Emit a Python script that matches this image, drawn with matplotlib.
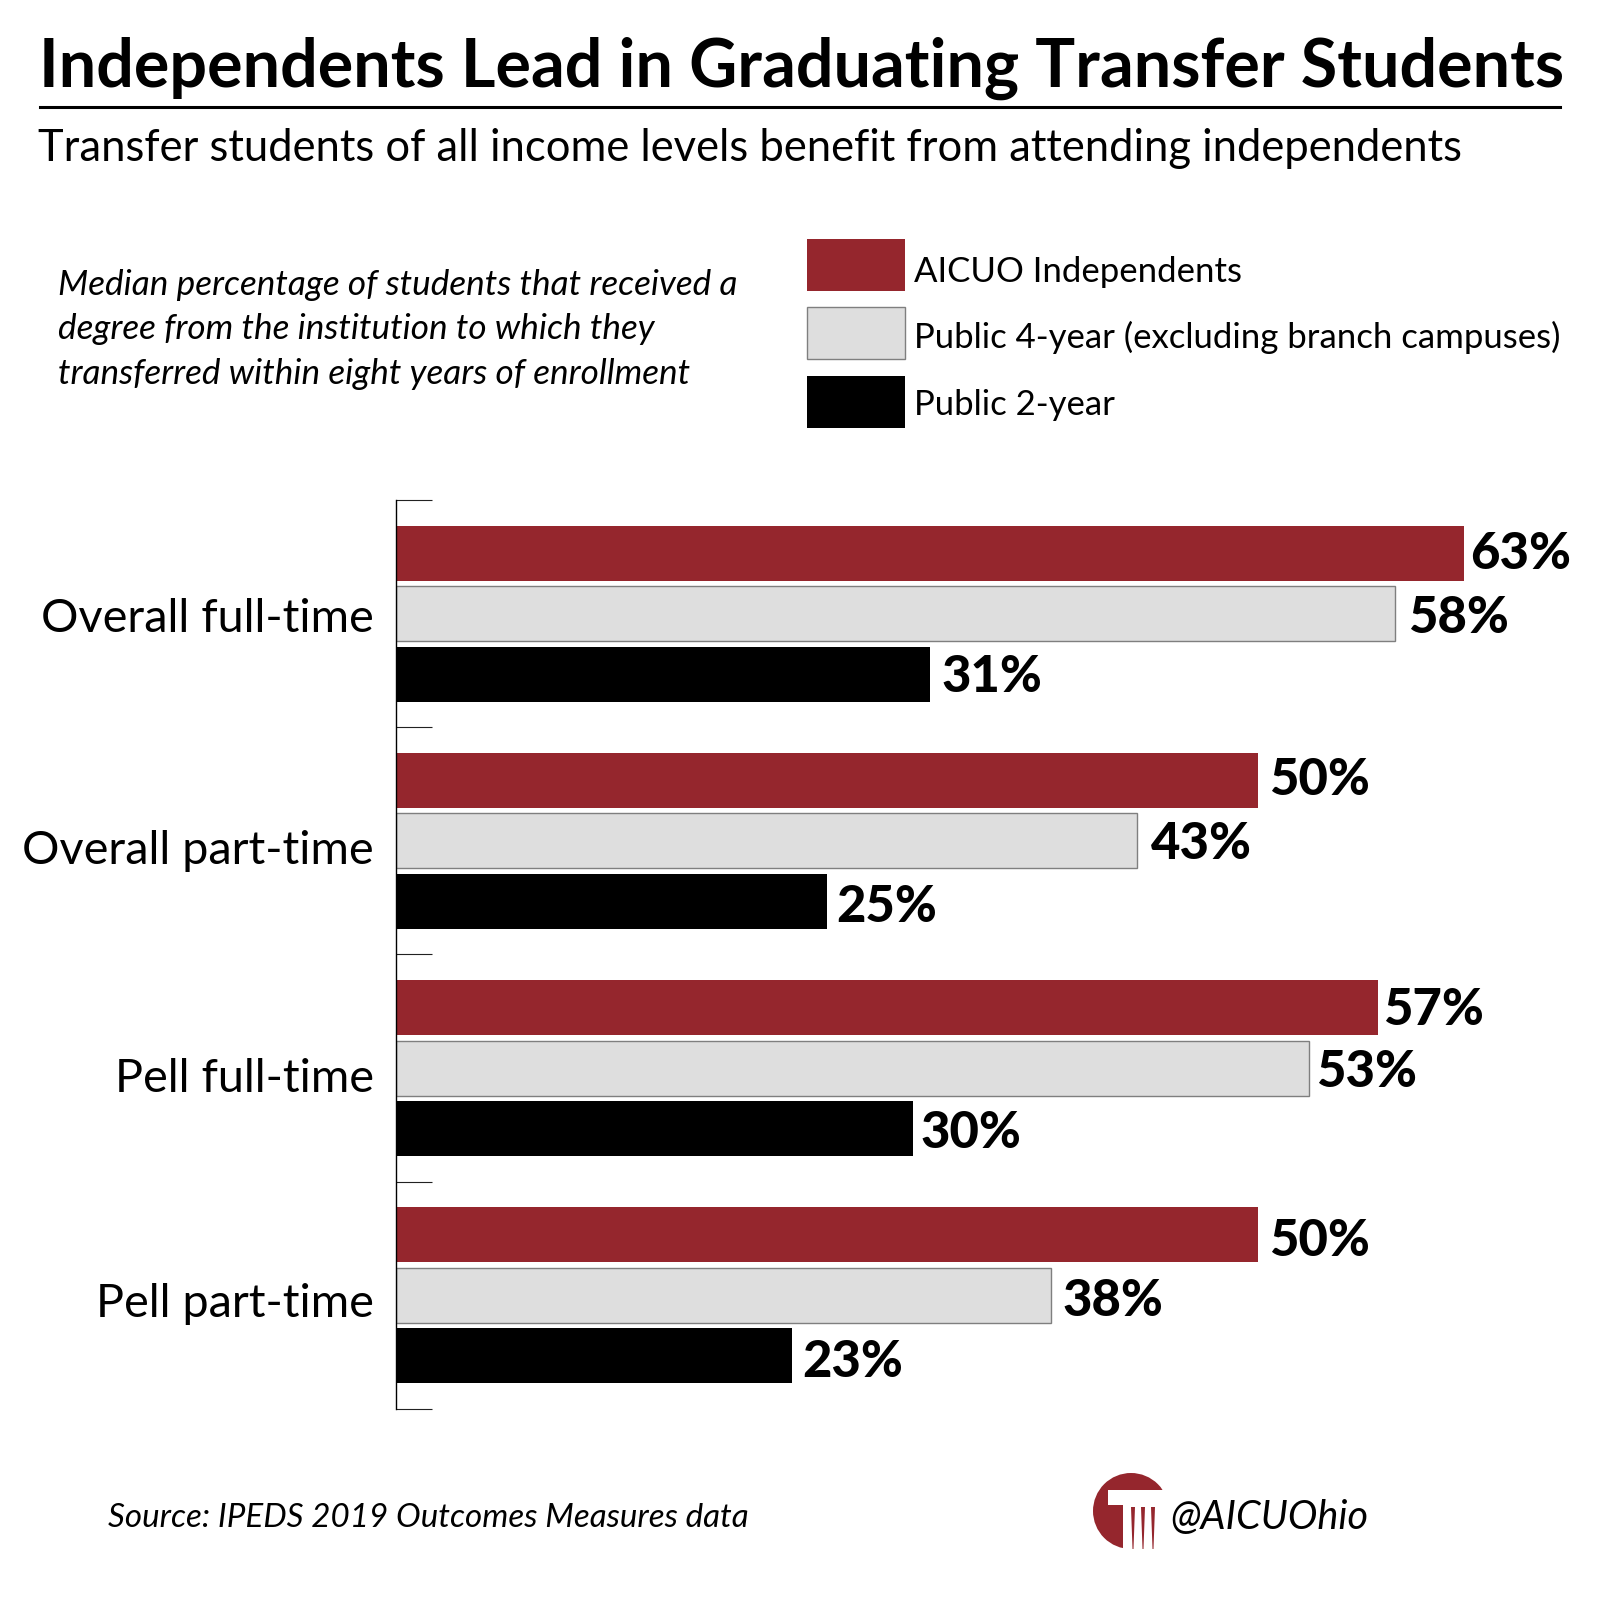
import numpy as np
import matplotlib
matplotlib.use("Agg")
import matplotlib.pyplot as plt
from matplotlib.patches import Rectangle, Circle, Polygon

plt.rcParams['font.family'] = ['Lato', 'Open Sans', 'DejaVu Sans']

categories = ["Overall full-time", "Overall part-time", "Pell full-time", "Pell part-time"]
series_names = ["AICUO Independents", "Public 4-year (excluding branch campuses)", "Public 2-year"]
# bar lengths as drawn (the 63% bar is really drawn a bit short in the original)
independents = [62, 50, 57, 50]
public4 = [58, 43, 53, 38]
public2 = [31, 25, 30, 23]
independents_labels = ["63%", "50%", "57%", "50%"]
public4_labels = ["58%", "43%", "53%", "38%"]
public2_labels = ["31%", "25%", "30%", "23%"]

RED = "#95262d"
GREY = "#dedede"
EDGE = "#7f7f7f"
W = 1601

fig = plt.figure(figsize=(W/100, W/100), dpi=100, facecolor="white")

# bars
x0, y_top, y_bot = 396, 500, 1409
pitch = (y_bot-y_top)/4
ax = fig.add_axes([x0/W, 1-y_bot/W, 1-x0/W, (y_bot-y_top)/W])
y = np.arange(4)+0.5
offs = 60.5/pitch
h = 55/pitch
ax.barh(y-offs, independents, h, color=RED, edgecolor="none")
ax.barh(y, public4, h, color=GREY, edgecolor=EDGE, linewidth=1)
ax.barh(y+offs, public2, h, color="black", edgecolor="none")
ax.set_xlim(0, (W-x0)/17.23)
ax.set_ylim(4, 0)
ax.set_xticks([])
ax.set_yticks(np.arange(5))
ax.set_yticklabels([])
ax.tick_params(axis="y", direction="in", length=26, width=0.8, color="#222222")
for s in ["top", "right", "bottom"]:
    ax.spines[s].set_visible(False)
ax.spines["left"].set_linewidth(1)
ax.patch.set_alpha(0)

# nudges in pixels, the labels were placed by hand in the original
pads = [[6, 12.7, 11], [11.5, 14, 9], [5, 6.5, 8], [11.5, 12, 10]]
dys = [0, -3, -2, 1, -2, -5, -1, -3, -3, -5, -5, -5]
for i in range(4):
    rows = [(independents, independents_labels), (public4, public4_labels), (public2, public2_labels)]
    for j, (vals, labs) in enumerate(rows):
        ax.annotate(labs[i], (vals[i], y[i]+(j-1)*offs), xytext=(pads[i][j]*0.72, dys[i*3+j]*0.72-1),
                    textcoords="offset points", va="center", ha="left",
                    fontsize=36.5, fontweight="black", color="black")

# everything else in pixel coords
ov = fig.add_axes([0, 0, 1, 1], zorder=-1)
ov.set_xlim(0, W)
ov.set_ylim(W, 0)
ov.axis("off")

ov.text(39, 87, "Independents Lead in Graduating Transfer Students", fontsize=47.85, fontweight="bold", va="baseline")
ov.plot([40, 1560], [106.5, 106.5], color="black", lw=2.2)
ov.text(38, 161, "Transfer students of all income levels benefit from attending independents", fontsize=31.34, va="baseline")

note = ["Median percentage of students that received a",
        "degree from the institution to which they",
        "transferred within eight years of enrollment"]
for line, by in zip(note, [295, 339, 384]):
    ov.text(58, by, line, fontsize=25.3, style="italic", va="baseline")

for yy, col, name, by in zip([239, 307, 376], [RED, GREY, "black"], series_names, [282, 348, 415]):
    ov.add_patch(Rectangle((807, yy), 98, 52, facecolor=col, edgecolor=EDGE if col == GREY else "none", lw=1))
    ov.text(914, by, name, fontsize=25.05, va="baseline")

for name, by in zip(categories, [632, 864, 1092, 1317]):
    ov.text(374, by, name, fontsize=33.7, ha="right", va="baseline")

ov.text(108, 1527, "Source: IPEDS 2019 Outcomes Measures data", fontsize=23.9, style="italic", va="baseline")
ov.text(1170, 1529, "@AICUOhio", fontsize=28.5, style="italic", va="baseline")

# logo
ov.add_patch(Circle((1131, 1511), 38, facecolor=RED, edgecolor="none"))
ov.add_patch(Rectangle((1108, 1490), 70, 15, facecolor="white", edgecolor="none"))
ov.add_patch(Rectangle((1123, 1505), 55, 50, facecolor="white", edgecolor="none"))
for cx in [1133, 1143, 1153]:
    ov.add_patch(Polygon([(cx-2, 1507), (cx+2, 1507), (cx+0.5, 1549), (cx-0.5, 1549)], facecolor=RED, edgecolor="none"))

fig.savefig("out.png", dpi=100, facecolor="white")
